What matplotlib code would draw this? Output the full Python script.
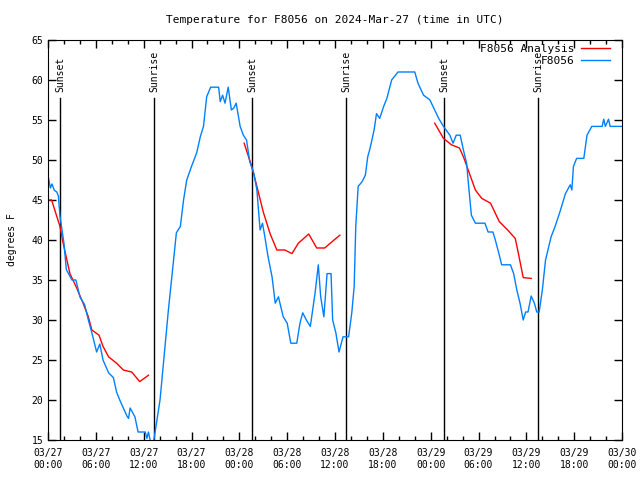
import datetime as dt
import matplotlib
matplotlib.use("Agg")
import matplotlib.pyplot as plt
import matplotlib.dates as mdates

plt.rcParams["font.family"] = ["DejaVu Sans Mono"]

base = dt.datetime(2024, 3, 27)

# observed F8056 temperature (hours after 03/27 00:00 UTC, degrees F)
obs_hours = [0.0, 0.3, 0.5, 0.8, 1.1, 1.3, 1.5, 1.8, 2.0, 2.3, 3.0, 3.5, 4.0, 4.6, 5.06, 5.5,
             6.1, 6.5, 6.9, 7.6, 8.2, 8.6, 9.0, 9.45, 9.9, 10.1, 10.3, 10.9, 11.3, 12.2, 12.4,
             12.6, 12.8, 13.2, 14.05, 15.1, 16.1, 16.6, 17.0, 17.4, 18.0, 18.65, 19.1, 19.5,
             19.9, 20.4, 21.4, 21.6, 21.9, 22.2, 22.6, 23.0, 23.3, 23.6, 24.1, 24.5, 24.9,
             25.3, 25.8, 26.2, 26.6, 26.9, 27.2, 27.6, 28.1, 28.5, 28.9, 29.5, 30.0, 30.45,
             31.2, 31.6, 31.95, 32.4, 32.9, 33.5, 33.9, 34.2, 34.6, 35.0, 35.5, 35.7, 36.1,
             36.5, 37.0, 37.7, 38.1, 38.4, 38.6, 38.9, 39.4, 39.8, 40.1, 40.4, 40.9, 41.2,
             41.6, 42.1, 42.5, 43.1, 43.9, 46.0, 46.4, 47.1, 47.9, 48.5, 49.0, 49.6, 50.4,
             50.8, 51.2, 51.7, 52.1, 52.5, 52.8, 53.1, 53.6, 54.8, 55.2, 55.8, 56.1, 56.5,
             56.9, 58.0, 58.4, 58.8, 59.2, 59.6, 59.9, 60.2, 60.6, 61.0, 61.3, 61.6, 62.0,
             62.4, 63.1, 63.6, 64.2, 64.9, 65.5, 65.7, 65.9, 66.3, 67.2, 67.6, 68.2, 69.5,
             69.7, 69.9, 70.3, 70.5, 71.7, 72.0]
obs_temp = [48.1, 46.5, 47.0, 46.2, 46.0, 45.5, 43.0, 41.0, 39.6, 36.3, 35.0, 35.0, 32.9, 31.9,
            30.0, 28.4, 26.0, 27.0, 25.0, 23.4, 22.8, 21.0, 20.0, 19.0, 18.0, 17.7, 19.0, 17.9,
            16.0, 16.0, 15.2, 16.0, 15.0, 14.5, 20.0, 31.25, 40.9, 41.7, 45.0, 47.5, 49.2,
            50.9, 52.9, 54.2, 57.9, 59.1, 59.1, 57.3, 58.1, 57.1, 59.1, 56.25, 56.5, 57.1,
            54.2, 53.1, 52.5, 49.8, 48.4, 46.25, 41.25, 42.1, 40.4, 37.9, 35.4, 32.1, 32.9,
            30.4, 29.6, 27.1, 27.1, 29.6, 30.9, 30.0, 29.2, 33.4, 36.9, 32.9, 30.4, 35.8, 35.8,
            30.0, 28.4, 26.0, 27.9, 27.9, 30.9, 34.2, 41.7, 46.7, 47.3, 48.1, 50.4, 51.5,
            53.75, 55.8, 55.2, 56.7, 57.7, 60.0, 61.0, 61.0, 59.6, 58.1, 57.5, 56.25, 55.2,
            54.2, 53.1, 52.1, 53.1, 53.1, 51.25, 49.6, 46.25, 43.1, 42.1, 42.1, 41.0, 41.0,
            40.0, 38.5, 36.9, 36.9, 35.8, 33.75, 32.1, 30.0, 31.0, 31.0, 33.0, 32.1, 31.0,
            31.0, 33.75, 37.5, 40.4, 41.7, 43.5, 45.8, 46.9, 46.25, 49.2, 50.2, 50.2, 53.1,
            54.2, 54.2, 55.1, 54.2, 55.1, 54.2, 54.2, 54.2]

# analysis runs (three overnight segments)
ana1_hours = [0.0, 0.45, 1.5, 1.9, 2.75, 3.6, 4.4, 5.06, 5.5, 6.4, 6.9, 7.6, 8.6, 9.45, 10.5, 11.5, 12.6]
ana1_temp = [45.0, 45.0, 41.7, 39.6, 35.8, 34.0, 32.1, 30.4, 28.75, 28.1, 26.7, 25.4, 24.6, 23.75, 23.5, 22.3, 23.1]
ana2_hours = [24.6, 25.55, 26.2, 27.0, 27.85, 28.7, 29.7, 30.6, 31.4, 32.7, 33.7, 34.7, 35.4, 36.6]
ana2_temp = [52.1, 49.2, 46.7, 43.5, 40.8, 38.75, 38.75, 38.3, 39.6, 40.75, 39.0, 39.0, 39.6, 40.6]
ana3_hours = [48.5, 49.6, 50.6, 51.6, 52.1, 52.7, 53.6, 54.4, 55.5, 56.6, 57.6, 58.6, 59.0, 59.6, 60.6]
ana3_temp = [54.6, 52.7, 51.9, 51.5, 50.4, 48.75, 46.25, 45.2, 44.6, 42.3, 41.3, 40.2, 38.3, 35.3, 35.2]

sunset_hours = [1.5, 25.6, 49.7]
sunrise_hours = [13.3, 37.4, 61.5]


def to_dt(hours):
    return [base + dt.timedelta(hours=h) for h in hours]


fig = plt.figure(figsize=(6.4, 4.8), dpi=100)
ax = fig.add_axes([0.075, 0.0833, 0.897, 0.8334])

for hrs, lbl in [(sunset_hours, "Sunset"), (sunrise_hours, "Sunrise")]:
    for h in hrs:
        t = base + dt.timedelta(hours=h)
        ax.plot([t, t], [15, 57.75], color="black", lw=1)
        ax.text(t, 58.5, lbl, rotation=90, ha="center", va="bottom", fontsize=7)

ax.plot(to_dt(ana1_hours), ana1_temp, color="red", lw=1, label="F8056 Analysis")
ax.plot(to_dt(ana2_hours), ana2_temp, color="red", lw=1)
ax.plot(to_dt(ana3_hours), ana3_temp, color="red", lw=1)
ax.plot(to_dt(obs_hours), obs_temp, color="#0080ff", lw=1, label="F8056")

ax.set_xlim(base, base + dt.timedelta(hours=72))
ax.set_ylim(15, 65)
ax.set_yticks(range(15, 66, 5))
ax.xaxis.set_major_locator(mdates.HourLocator(byhour=[0, 6, 12, 18]))
ax.xaxis.set_minor_locator(mdates.HourLocator(interval=2))
ax.xaxis.set_major_formatter(mdates.DateFormatter("%m/%d\n%H:%M"))
ax.tick_params(which="both", direction="in", top=True, right=True, labelsize=7)
ax.tick_params(which="major", length=6, width=1)
ax.tick_params(which="minor", length=3, width=1)
ax.tick_params(axis="x", pad=6)
ax.set_ylabel("degrees F", fontsize=7, labelpad=10)
ax.set_title("Temperature for F8056 on 2024-Mar-27 (time in UTC)", fontsize=8, pad=12)

ax.legend(loc="upper right", bbox_to_anchor=(0.979, 0.99), frameon=False,
          markerfirst=False, fontsize=8, handlelength=2.6, borderaxespad=0.0,
          borderpad=0.0, labelspacing=0.2, handletextpad=0.6)

fig.savefig("out.png", dpi=100, facecolor="white")
